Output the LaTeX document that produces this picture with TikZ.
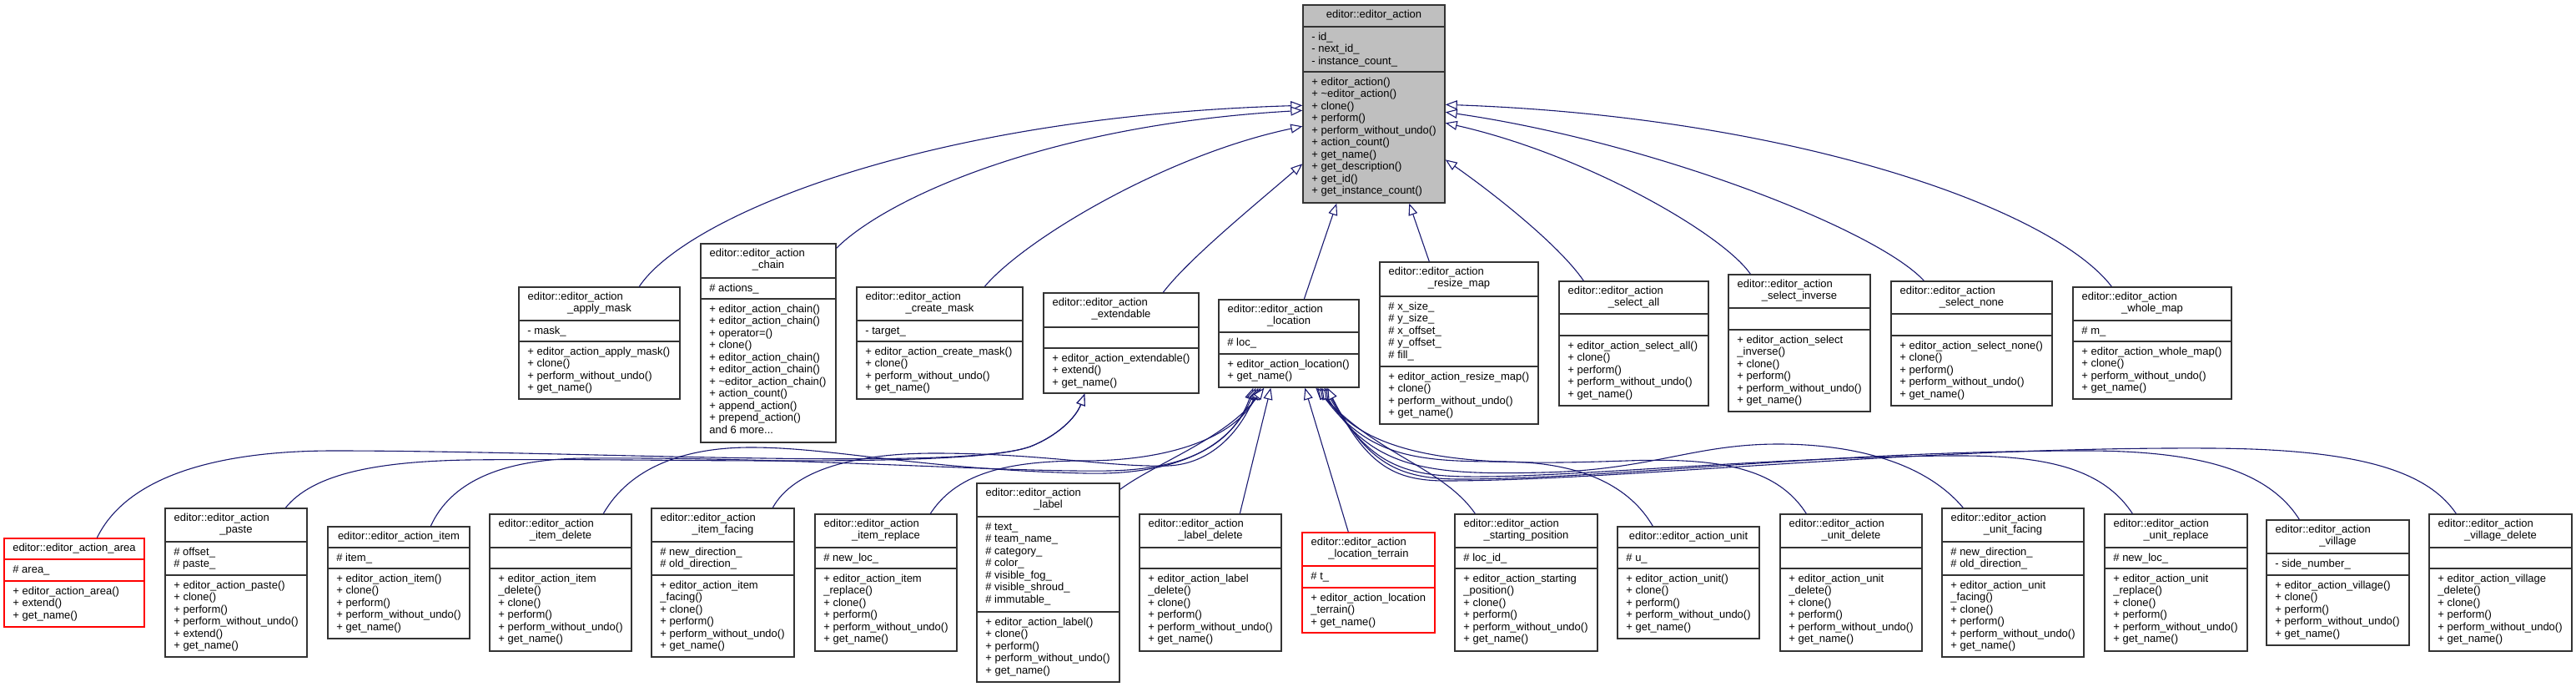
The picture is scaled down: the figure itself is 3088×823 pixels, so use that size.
\documentclass[tikz,border=0pt]{standalone}
\usepackage{fontspec}
\setmainfont{Liberation Sans}
\usetikzlibrary{fit,arrows.meta,calc}
\definecolor{edgeblue}{HTML}{191970}
\newcommand\fs{\fontsize{6.5pt}{7.25pt}\selectfont}
\newcommand\NL{\\\strut}
\tikzset{
  nb/.style={draw=black!80, fill=white},
  rb/.style={draw=red, fill=white},
  gb/.style={draw=black!80, fill=gray!50},
  boxsty/.style={line width=0.7pt, inner sep=0pt},
  txt/.style={inner sep=0pt, align=left, font=\fs, text=black},
  inh/.style={draw=edgeblue, line width=0.55pt, -{Triangle[length=7pt,width=5.5pt,fill=white]}},
}
% name, xl, xr, ytop, div1, div2, ybottom, style
\newcommand\ubox[8]{%
  \node[boxsty, #8, fit={(#2,#4) (#3,#7)}] (#1) {};
  \coordinate (#1-d1) at (#2,#5);
  \coordinate (#1-d2) at (#2,#6);
  \draw[#8, line width=0.7pt, fill=none] (#2,#5) -- (#3,#5) (#2,#6) -- (#3,#6);
}
\newcommand\tone[2]{\node[txt, anchor=north] (#1-t) at ([shift={(0,5.5)}]#1.north) {\strut #2};}
\newcommand\ttwo[3]{%
  \node[txt, anchor=north west] (#1-t) at ([shift={(11,5.5)}]#1.north west) {\strut #2};
  \node[txt, anchor=north] (#1-u) at ([shift={(0,20)}]#1.north) {\strut #3};}
\newcommand\tatt[2]{\node[txt, anchor=north west] (#1-a) at ([shift={(10,5.5)}]#1-d1) {\strut #2};}
\newcommand\tmet[2]{\node[txt, anchor=north west] (#1-m) at ([shift={(10,5.5)}]#1-d2) {\strut #2};}
\begin{document}
\begin{tikzpicture}[x=0.5pt,y=-0.5pt]
\fill[white] (0,0) rectangle (3088,823);
\useasboundingbox (0,0) rectangle (3088,823);

% ---------- base class ----------
\ubox{ea}{1562}{1732}{6}{32}{86}{243}{gb}
\tone{ea}{editor::editor\_action}
\tatt{ea}{- id\_\NL - next\_id\_\NL - instance\_count\_}
\tmet{ea}{+ editor\_action()\NL + \textasciitilde editor\_action()\NL + clone()\NL + perform()\NL + perform\_without\_undo()\NL + action\_count()\NL + get\_name()\NL + get\_description()\NL + get\_id()\NL + get\_instance\_count()}

% ---------- middle row ----------
\ubox{am}{622}{815}{344}{384}{409}{478}{nb}
\ttwo{am}{editor::editor\_action}{\_apply\_mask}
\tatt{am}{- mask\_}
\tmet{am}{+ editor\_action\_apply\_mask()\NL + clone()\NL + perform\_without\_undo()\NL + get\_name()}

\ubox{ch}{840}{1002}{292}{333}{358}{530}{nb}
\ttwo{ch}{editor::editor\_action}{\_chain}
\tatt{ch}{\# actions\_}
\tmet{ch}{+ editor\_action\_chain()\NL + editor\_action\_chain()\NL + operator=()\NL + clone()\NL + editor\_action\_chain()\NL + editor\_action\_chain()\NL + \textasciitilde editor\_action\_chain()\NL + action\_count()\NL + append\_action()\NL + prepend\_action()\NL and 6 more...}

\ubox{cm}{1027}{1226}{344}{384}{409}{478}{nb}
\ttwo{cm}{editor::editor\_action}{\_create\_mask}
\tatt{cm}{- target\_}
\tmet{cm}{+ editor\_action\_create\_mask()\NL + clone()\NL + perform\_without\_undo()\NL + get\_name()}

\ubox{ex}{1251}{1437}{351}{392}{417}{471}{nb}
\ttwo{ex}{editor::editor\_action}{\_extendable}
\tmet{ex}{+ editor\_action\_extendable()\NL + extend()\NL + get\_name()}

\ubox{lo}{1461}{1629}{359}{398}{424}{464}{nb}
\ttwo{lo}{editor::editor\_action}{\_location}
\tatt{lo}{\# loc\_}
\tmet{lo}{+ editor\_action\_location()\NL + get\_name()}

\ubox{rm}{1654}{1844}{314}{355}{439}{508}{nb}
\ttwo{rm}{editor::editor\_action}{\_resize\_map}
\tatt{rm}{\# x\_size\_\NL \# y\_size\_\NL \# x\_offset\_\NL \# y\_offset\_\NL \# fill\_}
\tmet{rm}{+ editor\_action\_resize\_map()\NL + clone()\NL + perform\_without\_undo()\NL + get\_name()}

\ubox{sa}{1869}{2048}{337}{376}{402}{486}{nb}
\ttwo{sa}{editor::editor\_action}{\_select\_all}
\tmet{sa}{+ editor\_action\_select\_all()\NL + clone()\NL + perform()\NL + perform\_without\_undo()\NL + get\_name()}

\ubox{si}{2072}{2242}{329}{369}{395}{493}{nb}
\ttwo{si}{editor::editor\_action}{\_select\_inverse}
\tmet{si}{+ editor\_action\_select\NL \_inverse()\NL + clone()\NL + perform()\NL + perform\_without\_undo()\NL + get\_name()}

\ubox{sn}{2267}{2460}{337}{376}{402}{486}{nb}
\ttwo{sn}{editor::editor\_action}{\_select\_none}
\tmet{sn}{+ editor\_action\_select\_none()\NL + clone()\NL + perform()\NL + perform\_without\_undo()\NL + get\_name()}

\ubox{wm}{2485}{2675}{344}{384}{409}{478}{nb}
\ttwo{wm}{editor::editor\_action}{\_whole\_map}
\tatt{wm}{\# m\_}
\tmet{wm}{+ editor\_action\_whole\_map()\NL + clone()\NL + perform\_without\_undo()\NL + get\_name()}

% ---------- bottom row ----------
\ubox{ar}{5}{173}{645}{670}{696}{751}{rb}
\tone{ar}{editor::editor\_action\_area}
\tatt{ar}{\# area\_}
\tmet{ar}{+ editor\_action\_area()\NL + extend()\NL + get\_name()}

\ubox{pa}{198}{368}{609}{649}{689}{787}{nb}
\ttwo{pa}{editor::editor\_action}{\_paste}
\tatt{pa}{\# offset\_\NL \# paste\_}
\tmet{pa}{+ editor\_action\_paste()\NL + clone()\NL + perform()\NL + perform\_without\_undo()\NL + extend()\NL + get\_name()}

\ubox{it}{393}{563}{631}{656}{681}{765}{nb}
\tone{it}{editor::editor\_action\_item}
\tatt{it}{\# item\_}
\tmet{it}{+ editor\_action\_item()\NL + clone()\NL + perform()\NL + perform\_without\_undo()\NL + get\_name()}

\ubox{id}{587}{757}{616}{656}{681}{780}{nb}
\ttwo{id}{editor::editor\_action}{\_item\_delete}
\tmet{id}{+ editor\_action\_item\NL \_delete()\NL + clone()\NL + perform()\NL + perform\_without\_undo()\NL + get\_name()}

\ubox{ifc}{781}{952}{609}{649}{689}{787}{nb}
\ttwo{ifc}{editor::editor\_action}{\_item\_facing}
\tatt{ifc}{\# new\_direction\_\NL \# old\_direction\_}
\tmet{ifc}{+ editor\_action\_item\NL \_facing()\NL + clone()\NL + perform()\NL + perform\_without\_undo()\NL + get\_name()}

\ubox{ir}{977}{1147}{616}{656}{681}{780}{nb}
\ttwo{ir}{editor::editor\_action}{\_item\_replace}
\tatt{ir}{\# new\_loc\_}
\tmet{ir}{+ editor\_action\_item\NL \_replace()\NL + clone()\NL + perform()\NL + perform\_without\_undo()\NL + get\_name()}

\ubox{la}{1171}{1342}{579}{619}{733}{817}{nb}
\ttwo{la}{editor::editor\_action}{\_label}
\tatt{la}{\# text\_\NL \# team\_name\_\NL \# category\_\NL \# color\_\NL \# visible\_fog\_\NL \# visible\_shroud\_\NL \# immutable\_}
\tmet{la}{+ editor\_action\_label()\NL + clone()\NL + perform()\NL + perform\_without\_undo()\NL + get\_name()}

\ubox{ld}{1366}{1536}{616}{656}{681}{780}{nb}
\ttwo{ld}{editor::editor\_action}{\_label\_delete}
\tmet{ld}{+ editor\_action\_label\NL \_delete()\NL + clone()\NL + perform()\NL + perform\_without\_undo()\NL + get\_name()}

\ubox{lt}{1561}{1720}{638}{678}{704}{758}{rb}
\ttwo{lt}{editor::editor\_action}{\_location\_terrain}
\tatt{lt}{\# t\_}
\tmet{lt}{+ editor\_action\_location\NL \_terrain()\NL + get\_name()}

\ubox{sp}{1744}{1915}{616}{656}{681}{780}{nb}
\ttwo{sp}{editor::editor\_action}{\_starting\_position}
\tatt{sp}{\# loc\_id\_}
\tmet{sp}{+ editor\_action\_starting\NL \_position()\NL + clone()\NL + perform()\NL + perform\_without\_undo()\NL + get\_name()}

\ubox{un}{1939}{2109}{631}{656}{681}{765}{nb}
\tone{un}{editor::editor\_action\_unit}
\tatt{un}{\# u\_}
\tmet{un}{+ editor\_action\_unit()\NL + clone()\NL + perform()\NL + perform\_without\_undo()\NL + get\_name()}

\ubox{ud}{2134}{2304}{616}{656}{681}{780}{nb}
\ttwo{ud}{editor::editor\_action}{\_unit\_delete}
\tmet{ud}{+ editor\_action\_unit\NL \_delete()\NL + clone()\NL + perform()\NL + perform\_without\_undo()\NL + get\_name()}

\ubox{uf}{2328}{2498}{609}{649}{689}{787}{nb}
\ttwo{uf}{editor::editor\_action}{\_unit\_facing}
\tatt{uf}{\# new\_direction\_\NL \# old\_direction\_}
\tmet{uf}{+ editor\_action\_unit\NL \_facing()\NL + clone()\NL + perform()\NL + perform\_without\_undo()\NL + get\_name()}

\ubox{ur}{2523}{2694}{616}{656}{681}{780}{nb}
\ttwo{ur}{editor::editor\_action}{\_unit\_replace}
\tatt{ur}{\# new\_loc\_}
\tmet{ur}{+ editor\_action\_unit\NL \_replace()\NL + clone()\NL + perform()\NL + perform\_without\_undo()\NL + get\_name()}

\ubox{vi}{2717}{2888}{623}{663}{689}{773}{nb}
\ttwo{vi}{editor::editor\_action}{\_village}
\tatt{vi}{- side\_number\_}
\tmet{vi}{+ editor\_action\_village()\NL + clone()\NL + perform()\NL + perform\_without\_undo()\NL + get\_name()}

\ubox{vd}{2912}{3083}{616}{656}{681}{780}{nb}
\ttwo{vd}{editor::editor\_action}{\_village\_delete}
\tmet{vd}{+ editor\_action\_village\NL \_delete()\NL + clone()\NL + perform()\NL + perform\_without\_undo()\NL + get\_name()}

% ---------- edges to editor_action ----------
\draw[inh] ([shift={(145,0)}]am.north west) .. controls (820,262) and (1100,140) .. ([shift={(0,121)}]ea.north west);
\draw[inh] ([shift={(0,6)}]ch.north east) .. controls (1060,240) and (1250,150) .. ([shift={(0,127)}]ea.north west);
\draw[inh] ([shift={(154,0)}]cm.north west) .. controls (1230,285) and (1400,185) .. ([shift={(0,146)}]ea.north west);
\draw[inh] ([shift={(144,0)}]ex.north west) .. controls (1425,310) and (1505,245) .. ([shift={(0,191)}]ea.north west);
\draw[inh] ([shift={(103,0)}]lo.north west) -- ([shift={(41,0)}]ea.south west);
\draw[inh] ([shift={(60,0)}]rm.north west) -- ([shift={(128,0)}]ea.south west);
\draw[inh] ([shift={(30,0)}]sa.north west) .. controls (1870,295) and (1795,235) .. ([shift={(0,186)}]ea.north east);
\draw[inh] ([shift={(27,0)}]si.north west) .. controls (2065,280) and (1900,185) .. ([shift={(0,142)}]ea.north east);
\draw[inh] ([shift={(40,0)}]sn.north west) .. controls (2250,275) and (1980,170) .. ([shift={(0,129)}]ea.north east);
\draw[inh] ([shift={(47,0)}]wm.north west) .. controls (2460,250) and (2150,140) .. ([shift={(0,120)}]ea.north east);

% ---------- edges to extendable ----------
\draw[inh] ([shift={(112,0)}]ar.north west) .. controls (150,575) and (250,540) .. (400,540)
  .. controls (700,540) and (1150,565) .. (1235,535) .. controls (1268,522) and (1290,500) .. ([shift={(50,0)}]ex.south west);
\draw[inh] ([shift={(145,0)}]pa.north west) .. controls (375,568) and (450,553) .. (560,551)
  .. controls (800,548) and (1160,562) .. (1235,535) .. controls (1268,522) and (1290,500) .. ([shift={(50,0)}]ex.south west);

% ---------- edges to location ----------
\draw[inh] ([shift={(124,0)}]it.north west) .. controls (540,578) and (600,550) .. (700,549)
  .. controls (950,547) and (1200,566) .. (1330,564) .. controls (1430,562) and (1480,528) .. ([shift={(42,0)}]lo.south west);
\draw[inh] ([shift={(137,0)}]id.north west) .. controls (755,560) and (820,536) .. (900,536)
  .. controls (1000,536) and (1100,562) .. (1300,567) .. controls (1420,570) and (1478,530) .. ([shift={(45,0)}]lo.south west);
\draw[inh] ([shift={(146,0)}]ifc.north west) .. controls (950,565) and (1020,543) .. (1120,543)
  .. controls (1250,543) and (1330,560) .. (1400,558) .. controls (1450,556) and (1485,520) .. ([shift={(48,0)}]lo.south west);
\draw[inh] ([shift={(139,0)}]ir.north west) .. controls (1145,570) and (1200,552) .. (1300,552)
  .. controls (1400,552) and (1480,525) .. ([shift={(51,0)}]lo.south west);
\draw[inh] ([shift={(0,8)}]la.north east) .. controls (1385,555) and (1470,525) .. ([shift={(55,0)}]lo.south west);
\draw[inh] ([shift={(121,0)}]ld.north west) -- ([shift={(63,0)}]lo.south west);
\draw[inh] ([shift={(56,0)}]lt.north west) -- ([shift={(104,0)}]lo.south west);
\draw[inh] ([shift={(25,0)}]sp.north west) .. controls (1730,560) and (1650,545) .. ([shift={(117,0)}]lo.south west);
\draw[inh] ([shift={(43,0)}]un.north west) .. controls (1955,585) and (1900,553) .. (1800,553)
  .. controls (1700,553) and (1640,548) .. ([shift={(119,0)}]lo.south west);
\draw[inh] ([shift={(32,0)}]ud.north west) .. controls (2130,560) and (2060,548) .. (1950,552)
  .. controls (1800,557) and (1645,560) .. ([shift={(122,0)}]lo.south west);
\draw[inh] ([shift={(26,0)}]uf.north west) .. controls (2300,545) and (2200,532) .. (2132,532)
  .. controls (2030,532) and (1980,563) .. (1850,566) .. controls (1720,569) and (1645,565) .. ([shift={(124,0)}]lo.south west);
\draw[inh] ([shift={(34,0)}]ur.north west) .. controls (2520,560) and (2450,546) .. (2350,546)
  .. controls (2150,546) and (1900,570) .. (1780,571) .. controls (1690,572) and (1645,563) .. ([shift={(127,0)}]lo.south west);
\draw[inh] ([shift={(40,0)}]vi.north west) .. controls (2720,565) and (2640,540) .. (2500,540)
  .. controls (2200,540) and (1950,572) .. (1760,574) .. controls (1680,575) and (1643,560) .. ([shift={(129,0)}]lo.south west);
\draw[inh] ([shift={(33,0)}]vd.north west) .. controls (2910,565) and (2830,538) .. (2650,537)
  .. controls (2300,535) and (1950,575) .. (1740,576) .. controls (1675,577) and (1640,562) .. ([shift={(131,0)}]lo.south west);
\end{tikzpicture}
\end{document}
